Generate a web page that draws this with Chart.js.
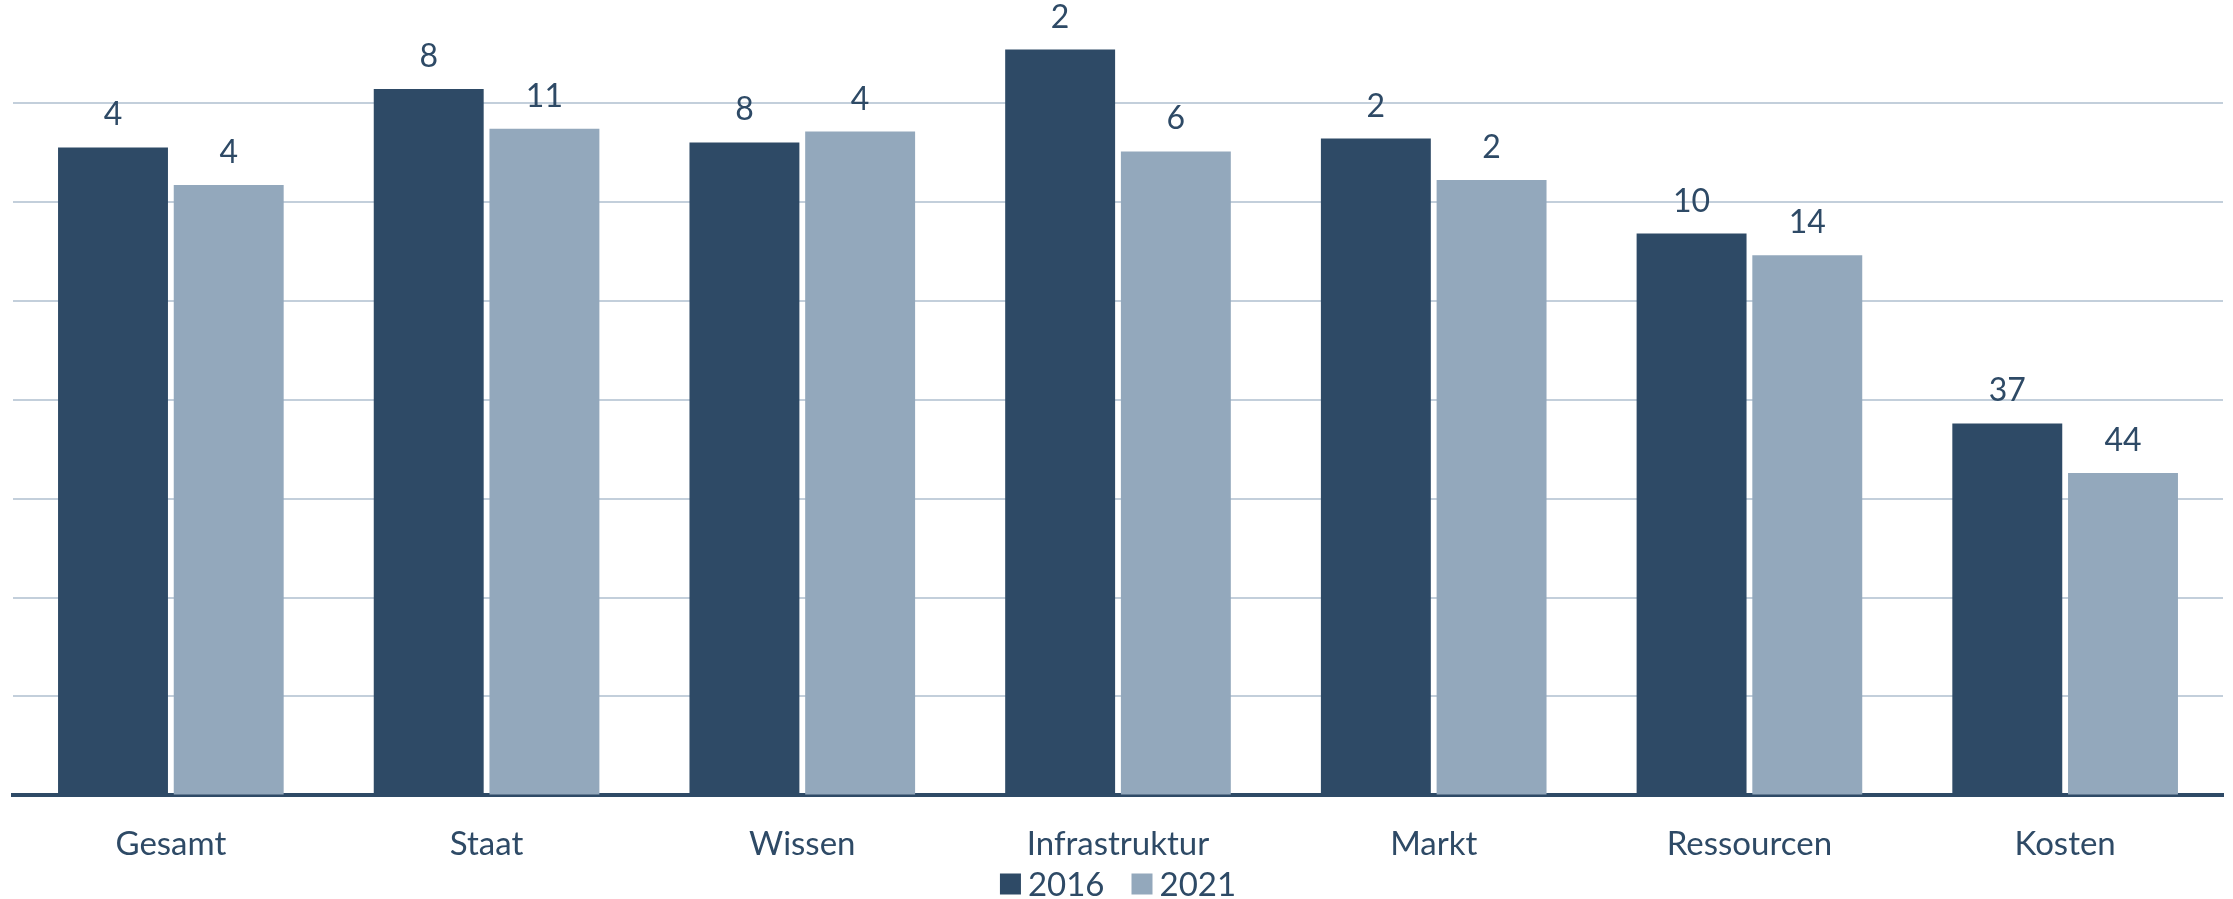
<!DOCTYPE html>
<html>
<head>
<meta charset="utf-8">
<script src="https://cdn.jsdelivr.net/npm/chart.js@4"></script>
<style>
  html, body { margin: 0; padding: 0; background: #fff; }
  #wrap { width: 2233px; height: 899px; }
</style>
</head>
<body>
<div id="wrap"><canvas id="myChart" width="2233" height="899"></canvas></div>
<script>
  const categories = ["Gesamt", "Staat", "Wissen", "Infrastruktur", "Markt", "Ressourcen", "Kosten"];
  const years = ["2016", "2021"];

  // bar heights (index score)
  const score2016 = [65.5, 71.4, 66.0, 75.4, 66.4, 56.8, 37.6];
  const score2021 = [61.7, 67.4, 67.1, 65.1, 62.2, 54.6, 32.6];

  // rank printed above each bar
  const rank2016 = [4, 8, 8, 2, 2, 10, 37];
  const rank2021 = [4, 11, 4, 6, 2, 14, 44];

  const dark = '#2E4A66';
  const light = '#93A8BC';
  const textColor = '#2E4A66';
  const fontFamily = 'Lato, "Open Sans", sans-serif';

  // draws the rank numbers above the bars
  const rankLabels = {
    id: 'rankLabels',
    afterDatasetsDraw(chart) {
      const c = chart.ctx;
      c.save();
      c.font = '32px ' + fontFamily;
      c.fillStyle = textColor;
      c.textAlign = 'center';
      c.textBaseline = 'alphabetic';
      chart.data.datasets.forEach(function(ds, i) {
        chart.getDatasetMeta(i).data.forEach(function(bar, j) {
          c.fillText(String(ds.ranks[j]), bar.x, bar.y - 22);
        });
      });
      c.restore();
    }
  };

  // compact legend under the axis labels (square, small gap, year)
  const bottomLegend = {
    id: 'bottomLegend',
    afterDraw(chart) {
      const c = chart.ctx;
      const box = 21, gapText = 7, gapItem = 27;
      c.save();
      c.font = '33px ' + fontFamily;
      c.textBaseline = 'middle';
      c.textAlign = 'left';
      const items = chart.data.datasets.map(function(ds) {
        return { text: ds.label, color: ds.backgroundColor, w: c.measureText(ds.label).width };
      });
      let total = 0;
      items.forEach(function(it, i) { total += box + gapText + it.w + (i > 0 ? gapItem : 0); });
      let x = (chart.chartArea.left + chart.chartArea.right) / 2 - total / 2;
      const y = chart.height - 15;
      items.forEach(function(it) {
        c.fillStyle = it.color;
        c.fillRect(x, y - box / 2, box, box);
        c.fillStyle = textColor;
        c.fillText(it.text, x + box + gapText, y + 1);
        x += box + gapText + it.w + gapItem;
      });
      c.restore();
    }
  };

  Chart.defaults.font.family = fontFamily;
  Chart.defaults.color = textColor;

  let ctx = document.getElementById('myChart').getContext('2d');

  let chart = new Chart(ctx, {
    type: 'bar',
    data: {
      labels: categories,
      datasets: [{
        label: years[0],
        backgroundColor: dark,
        data: score2016,
        ranks: rank2016,
      },
      {
        label: years[1],
        backgroundColor: light,
        data: score2021,
        ranks: rank2021,
      }]
    },
    plugins: [rankLabels, bottomLegend],
    options: {
      responsive: false,
      animation: false,
      layout: { padding: { top: 4, left: 13, right: 10, bottom: 14 } },
      datasets: {
        bar: { categoryPercentage: 0.733, barPercentage: 0.95 }
      },
      scales: {
        x: {
          grid: { display: false },
          border: { color: dark, width: 4 },
          ticks: { font: { size: 33, lineHeight: 1.2 }, color: textColor, padding: 21 }
        },
        y: {
          min: 0,
          max: 80,
          ticks: { display: false, stepSize: 10 },
          border: { display: false },
          grid: {
            drawTicks: false,
            lineWidth: 2,
            color: function(c) { return c.tick && c.tick.value === 80 ? 'rgba(0,0,0,0)' : '#C3CFDB'; }
          }
        }
      },
      plugins: {
        legend: { display: false },
        tooltip: { enabled: false }
      }
    }
  });
</script>
</body>
</html>
